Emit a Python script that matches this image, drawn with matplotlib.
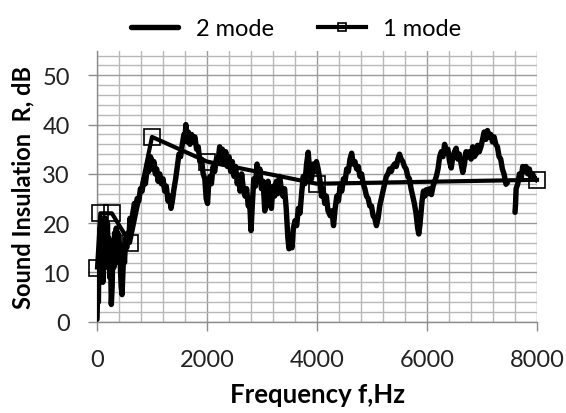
import numpy as np
import matplotlib
matplotlib.use("Agg")
import matplotlib.pyplot as plt
from matplotlib.ticker import MultipleLocator

# 2 mode: narrow-band measured curve (Hz, dB); nan = gap in the record
freq_2mode = [
    0, 15, 25, 35, 45, 55, 65, 75, 85, 95, 105, 115, 125, 140, 150, 160, 170, 180,
    190, 200, 215, 230, 245, 260, 275, 290, 305, 320, 335, 350, 365, 380, 395, 410,
    425, 440, 455, 470, 485, 500, 520, 540, 560, 580, 600, 625, 650, 680, 700, 730,
    760, 790, 820, 850, 880, 910, 940, 970, 990, 1010, 1035, 1060, 1085, 1110, 1140,
    1170, 1200, 1230, 1260, 1290, 1320, 1345, 1370, 1400, 1430, 1460, 1490, 1520,
    1550, 1580, 1600, 1615, 1635, 1660, 1690, 1720, 1750, 1780, 1810, 1840, 1870,
    1900, 1930, 1960, 1985, 2010, 2030, 2055, 2080, 2110, 2140, 2170, 2200, 2230,
    2255, 2280, 2310, 2340, 2370, 2400, 2430, 2460, 2490, 2520, 2550, 2575, 2600,
    2630, 2660, 2690, 2720, 2750, 2775, 2800, 2825, 2850, 2880, 2910, 2935, 2960,
    2990, 3020, 3050, 3080, 3110, 3140, 3170, 3200, 3230, 3260, 3290, 3320, 3350,
    3380, 3410, 3440, 3470, 3490, 3520, 3545, 3570, 3600, 3630, 3660, 3690, 3720,
    3750, 3780, 3810, 3840, 3870, 3900, 3930, 3960, 3990, 4020, 4050, 4080, 4110,
    4140, 4170, 4200, 4240, 4270, 4300, 4330, 4360, 4390, 4420, 4450, 4480, 4510,
    4540, 4570, 4600, 4630, 4660, 4690, 4720, 4750, 4780, 4810, 4840, 4870, 4900,
    4930, 4960, 4990, 5020, 5050, 5080, 5110, 5140, 5170, 5200, 5230, 5260, 5290,
    5320, 5350, 5380, 5410, 5440, 5470, 5500, 5530, 5560, 5590, 5620, 5650, 5680,
    5710, 5740, 5770, 5800, 5830, 5850, 5870, 5890, 5910, 5935, 5960, 5990, 6020,
    6050, 6080, 6110, 6140, 6170, 6200, 6230, 6260, 6290, 6320, 6350, 6380, 6410,
    6440, 6470, 6500, 6530, 6560, 6590, 6620, 6650, 6680, 6710, 6740, 6770, 6800,
    6830, 6860, 6890, 6920, 6950, 6980, 7010, 7040, 7070, 7100, 7130, 7160, 7190,
    7220, 7250, 7280, 7310, 7340, 7370, 7400, 7436, 7460, 7530,
    7600, 7610, 7620, 7650, 7680, 7710, 7740, 7770, 7800, 7830, 7860, 7890, 7920,
    7950, 7980, 8000]
r_2mode = [
    0.5, 8, 4, 15, 9, 19, 12, 20, 10, 17, 8, 14, 21, 18, 21, 13, 19, 16,
    20, 11, 17, 9, 14, 3.5, 7, 16, 11, 18, 13, 19, 15, 18, 12, 16,
    11, 7, 5.5, 10, 14, 12, 17, 15, 18, 17, 21, 19, 22, 24, 23, 25,
    24.5, 27, 26.5, 29, 28, 31, 30.5, 33.5, 33, 31, 32.5, 30, 31, 28.5, 30,
    28, 29, 26.5, 27.5, 24.5, 25.5, 23, 24.5, 27, 29, 31.5, 34, 33.5,
    36, 38, 37, 40, 36.5, 38.5, 36, 38, 36.5, 37.5, 35, 35.5, 32.5,
    33, 30, 29, 25, 24, 28, 29.5, 28, 31.5, 30.5, 33, 32.5, 35.5,
    33, 35, 32, 34.5, 31.5, 33.5, 30.5, 32.5, 29.5, 31.5, 28, 29.5, 26.5,
    30, 27, 25.5, 27, 23.5, 24.5, 18.5, 24, 29, 27.5, 32, 29, 31,
    27, 28.5, 22.5, 27, 28.5, 24, 23, 27.5, 25.5, 28.5, 26, 29.5, 27,
    25.5, 27, 23, 17, 14.8, 16, 15, 19, 20.5, 19.5, 23, 22, 26,
    29.5, 28, 32, 34.4, 30, 29, 32, 30.5, 32.5, 31, 29, 25.5, 27,
    24, 25.5, 22.5, 21.5, 22.5, 19.5, 23, 25.5, 24.5, 27.5, 26.5, 29, 28.5,
    31, 30.5, 33, 34.2, 32, 32.5, 31, 31.5, 29.5, 30, 28, 27, 25.5,
    25, 23.5, 23.5, 21.5, 21, 19.5, 21, 23.5, 25, 26.5, 28, 29.5, 30,
    31, 30.5, 31.5, 32, 31.5, 33, 34, 33, 32.5, 31.5, 31, 29.5, 29,
    27, 25.5, 24, 22, 19, 17.8, 19.5, 22, 24.5, 26.5, 25.5, 26.8, 26,
    27, 25.8, 27.5, 28.5, 29.5, 31, 33.5, 34.5, 33.5, 36, 34.5, 35, 32.5,
    31.2, 33.5, 34.5, 35.2, 33, 34, 32, 30.3, 32, 34.5, 33.5, 34.5, 33,
    35.5, 33.5, 34, 35.8, 34.5, 35.5, 37, 38.5, 37, 38.8, 37.5, 38, 36.5,
    37.5, 36, 35.5, 33.5, 33, 31, 30, 27.9, 28.2, np.nan,
    22.2, 24, 27, 28, 30, 29, 31.5, 30.5, 31.5, 30, 31, 29.5, 30,
    29, 29, 28.7]

# 1 mode: calculated points
freq_1mode = [0, 60, 270, 600, 1000, 2000, 4000, 8000]
r_1mode = [11, 22, 22, 16, 37.5, 32.5, 28, 28.8]

plt.rcParams["font.family"] = ["Lato", "DejaVu Sans"]

fig = plt.figure(figsize=(5.66, 4.14), dpi=100)
ax = fig.add_axes([0.1714, 0.2205, 0.7774, 0.6546])

ax.plot(freq_2mode, r_2mode, color="black", lw=3.9, solid_joinstyle="round",
        solid_capstyle="round", label="2 mode", zorder=3)
ax.plot(freq_1mode, r_1mode, color="black", lw=3.0, marker="s", ms=12,
        mfc="none", mec="black", mew=1.2, label="1 mode", clip_on=False, zorder=4)

ax.set_xlim(0, 8000)
ax.set_ylim(0, 55)
ax.xaxis.set_major_locator(MultipleLocator(2000))
ax.xaxis.set_minor_locator(MultipleLocator(400))
ax.yaxis.set_major_locator(MultipleLocator(10))
ax.yaxis.set_minor_locator(MultipleLocator(2))

ax.grid(which="major", color="#9a9a9a", lw=1.0)
ax.grid(which="minor", color="#b8b8b8", lw=1.0)
ax.set_axisbelow(True)

for side in ("top", "right"):
    ax.spines[side].set_visible(False)
for side in ("left", "bottom"):
    ax.spines[side].set_color("#8c8c8c")
    ax.spines[side].set_linewidth(1.0)

ax.tick_params(which="major", direction="out", length=6.5, width=1.0,
               color="#8c8c8c", labelsize=17, labelcolor="#222222")
ax.tick_params(axis="x", pad=13)
ax.tick_params(axis="y", pad=13)
ax.tick_params(which="minor", length=0)

ax.set_xlabel("Frequency f,Hz", fontsize=18.5, fontweight="bold", labelpad=9)
ax.set_ylabel("Sound Insulation  R, dB", fontsize=17, fontweight="bold", labelpad=6)

fig.legend(loc="upper center", bbox_to_anchor=(0.523, 1.005), ncol=2, frameon=False,
           fontsize=17, handlelength=2.0, handletextpad=0.75, columnspacing=1.9,
           markerscale=0.5)

fig.savefig("out.png", dpi=100)
